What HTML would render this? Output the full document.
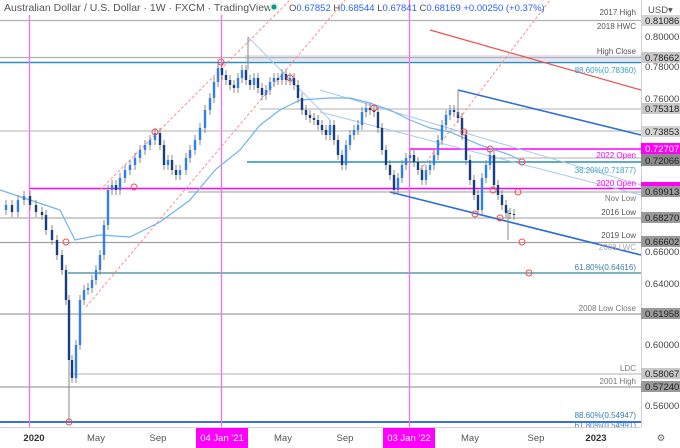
<!DOCTYPE html>
<html><head><meta charset="utf-8"><style>
html,body{margin:0;padding:0;background:#fff;width:680px;height:448px;overflow:hidden;font-family:"Liberation Sans",sans-serif}
svg{display:block}
</style></head><body>
<svg id="s" width="680" height="448" xmlns="http://www.w3.org/2000/svg" font-family="Liberation Sans, sans-serif">
<rect width="680" height="448" fill="#fff"/>
<g stroke-width="1.3">
<line x1="0" y1="20.5" x2="641" y2="20.5" stroke="#b0b0b0"/>
<rect x="245" y="55" width="396" height="6" fill="#e4e4f4"/>
<line x1="0" y1="57.5" x2="641" y2="57.5" stroke="#b0b0b0"/>
<line x1="0" y1="62.5" x2="641" y2="62.5" stroke="#2a8fb8" stroke-width="1.6"/>
<line x1="260" y1="109" x2="641" y2="109" stroke="#c0c0c0"/>
<line x1="0" y1="131" x2="641" y2="131" stroke="#c0c0c0"/>
<line x1="410" y1="149" x2="641" y2="149" stroke="#ff00ff" stroke-width="1.6"/>
<line x1="247" y1="162" x2="641" y2="162" stroke="#2a8fb8" stroke-width="1.6"/>
<line x1="490" y1="158" x2="641" y2="158" stroke="#c0c0c0"/>
<line x1="30" y1="188.5" x2="641" y2="188.5" stroke="#ff00ff" stroke-width="1.6"/>
<line x1="188" y1="192" x2="641" y2="192" stroke="#b0b0b0"/>
<line x1="0" y1="218" x2="641" y2="218" stroke="#b0b0b0"/>
<line x1="0" y1="242.5" x2="641" y2="242.5" stroke="#a0a0a0"/>
<line x1="68" y1="273" x2="641" y2="273" stroke="#5a9aa8" stroke-width="1.6"/>
<line x1="0" y1="314" x2="641" y2="314" stroke="#a0a0a0"/>
<line x1="70" y1="374" x2="641" y2="374" stroke="#c0c0c0"/>
<line x1="0" y1="387" x2="641" y2="387" stroke="#a0a0a0"/>
<line x1="0" y1="422" x2="641" y2="422" stroke="#1f5fc8" stroke-width="1.8"/>
</g>
<g stroke="#ff66ff" stroke-width="1.2">
<line x1="29.5" y1="0" x2="29.5" y2="427"/>
<line x1="221.5" y1="0" x2="221.5" y2="427"/>
<line x1="409.5" y1="0" x2="409.5" y2="427"/>
</g>
<line x1="430" y1="30" x2="641" y2="90" stroke="#f05050" stroke-width="1.2"/>
<line x1="100" y1="190" x2="290" y2="0" stroke="#ff9090" stroke-width="1" stroke-dasharray="3,2"/>
<line x1="86" y1="307" x2="345" y2="0" stroke="#ff9090" stroke-width="1" stroke-dasharray="3,2"/>
<line x1="420" y1="170" x2="550" y2="0" stroke="#ff9090" stroke-width="1" stroke-dasharray="3,2"/>
<line x1="458" y1="90" x2="641" y2="135" stroke="#2f6fd6" stroke-width="1.6"/>
<line x1="390" y1="192" x2="641" y2="255" stroke="#2f6fd6" stroke-width="1.6"/>
<line x1="320" y1="112" x2="641" y2="195" stroke="#a8c8f0" stroke-width="1"/>
<line x1="320" y1="90" x2="641" y2="185" stroke="#a8c8f0" stroke-width="1"/>
<line x1="248" y1="37" x2="330" y2="120" stroke="#a8c8f0" stroke-width="1"/>
<polyline fill="none" stroke="#6fb4ec" stroke-width="1.2" points="0,190 30,200 60,210 75,240 100,235 130,237 160,222 190,200 215,170 240,150 260,125 280,110 300,100 330,98 350,98 370,103 390,110 410,120 430,128 450,132 480,145 510,155 520,160"/>
<g id="c"></g>
<g fill="none" stroke="#f05050" stroke-width="1">
<circle cx="66" cy="242" r="3"/><circle cx="69" cy="422" r="3"/><circle cx="155" cy="132" r="3"/><circle cx="134" cy="187" r="3"/>
<circle cx="221" cy="62" r="3"/><circle cx="290" cy="78" r="3"/><circle cx="374" cy="108" r="3"/><circle cx="464" cy="132" r="3"/>
<circle cx="490" cy="149" r="3"/><circle cx="522" cy="162" r="3"/><circle cx="493" cy="190" r="3"/><circle cx="518" cy="192" r="3"/>
<circle cx="475" cy="214" r="3"/><circle cx="500" cy="218" r="3"/><circle cx="522" cy="242" r="3"/><circle cx="529" cy="273" r="3"/>
</g>
<g font-size="8" text-anchor="end" fill="#555">
<text x="636" y="15">2017 High</text>
<text x="636" y="29">2018 HWC</text>
<text x="636" y="54">High Close</text>
<text x="636" y="73" fill="#3aa0c8">88.60%(0.78360)</text>
<text x="636" y="158" fill="#ff00ff">2022 Open</text>
<text x="636" y="173" fill="#3aa0c8">38.20%(0.71877)</text>
<text x="636" y="186" fill="#ff00ff">2020 Open</text>
<text x="636" y="201" fill="#777">Nov Low</text>
<text x="636" y="215">2016 Low</text>
<text x="636" y="238">2019 Low</text>
<text x="636" y="250" fill="#aaa">2008 LWC</text>
<text x="636" y="270" fill="#3a7fa0">61.80%(0.64616)</text>
<text x="636" y="311" fill="#777">2008 Low Close</text>
<text x="636" y="371" fill="#777">LDC</text>
<text x="636" y="384" fill="#777">2001 High</text>
<text x="636" y="418" fill="#3a7fa0">88.60%(0.54947)</text>
<text x="636" y="428" fill="#3a7fc8">61.80%(0.54991)</text>
</g>
<rect x="641" y="0" width="39" height="448" fill="#fff"/>
<line x1="641.5" y1="0" x2="641.5" y2="448" stroke="#d0d0d0"/>
<g font-size="9.5" fill="#444" text-anchor="start">
<text x="648" y="13" fill="#555">USD▾</text>
<text x="645" y="40">0.80000</text>
<text x="645" y="70">0.78000</text>
<text x="645" y="102">0.76000</text>
<text x="645" y="255">0.66000</text>
<text x="645" y="287">0.64000</text>
<text x="645" y="348">0.60000</text>
<text x="645" y="409">0.56000</text>
</g>
<g font-size="9.5" fill="#222">
<rect x="641" y="15" width="39" height="11" fill="#d4d4d4"/><text x="645" y="24">0.81086</text>
<rect x="641" y="52" width="39" height="11" fill="#c8c8c8"/><text x="645" y="61">0.78662</text>
<rect x="641" y="103" width="39" height="11" fill="#c8c8c8"/><text x="645" y="112">0.75318</text>
<rect x="641" y="126" width="39" height="11" fill="#d4d4d4"/><text x="645" y="135">0.73853</text>
<rect x="641" y="143" width="39" height="11" fill="#ff00ff"/><text x="645" y="152" fill="#fff">0.72707</text>
<rect x="641" y="154" width="39" height="12" fill="#8a8a8a"/><text x="645" y="164">0.72066</text>
<rect x="641" y="182" width="39" height="4" fill="#ff00ff"/>
<rect x="641" y="186" width="39" height="11" fill="#9a9a9a"/><text x="645" y="195">0.69913</text>
<rect x="641" y="212" width="39" height="11" fill="#9a9a9a"/><text x="645" y="221">0.68270</text>
<rect x="641" y="236" width="39" height="11" fill="#9a9a9a"/><text x="645" y="245">0.66602</text>
<rect x="641" y="308" width="39" height="11" fill="#9a9a9a"/><text x="645" y="317">0.61958</text>
<rect x="641" y="368" width="39" height="11" fill="#c8c8c8"/><text x="645" y="377">0.58067</text>
<rect x="641" y="381" width="39" height="11" fill="#9a9a9a"/><text x="645" y="390">0.57240</text>
</g>
<rect x="0" y="427" width="680" height="21" fill="#fff"/>
<line x1="0" y1="427.5" x2="641" y2="427.5" stroke="#d0d0d0"/>
<rect x="196" y="428" width="52" height="20" fill="#ff00ff"/>
<rect x="383" y="428" width="52" height="20" fill="#ff00ff"/>
<g font-size="9.5" fill="#555" text-anchor="middle">
<text x="34" y="441" font-weight="bold" fill="#333">2020</text>
<text x="96" y="441">May</text>
<text x="158" y="441">Sep</text>
<text x="222" y="441" fill="#fff">04 Jan '21</text>
<text x="283" y="441">May</text>
<text x="345" y="441">Sep</text>
<text x="409" y="441" fill="#fff">03 Jan '22</text>
<text x="470" y="441">May</text>
<text x="536" y="441">Sep</text>
<text x="596" y="441" font-weight="bold" fill="#333">2023</text>
<text x="661" y="441" fill="#666">⚙</text>
</g>
<rect x="0" y="0" width="272" height="15" fill="#fff" fill-opacity="0.85"/>
<text x="4" y="11" font-size="10.5" fill="#555">Australian Dollar / U.S. Dollar · 1W · FXCM · TradingView</text>
<circle cx="274" cy="7" r="4.5" fill="#e0f0ee"/><circle cx="274" cy="7" r="2.5" fill="#089981"/>
<text x="289" y="11" font-size="9.5" fill="#2962ff"><tspan fill="#555">O</tspan>0.67852 <tspan fill="#555">H</tspan>0.68544 <tspan fill="#555">L</tspan>0.67841 <tspan fill="#555">C</tspan>0.68169 +0.00250 (+0.37%)</text>
</svg>
<script>
var p=[[0,210],[6,205],[12,212],[18,200],[24,196],[30,205],[36,212],[42,215],[46,230],[52,240],[57,255],[62,270],[66,300],[69,360],[72,378],[76,345],[80,300],[84,290],[88,288],[92,280],[96,270],[100,255],[104,225],[108,190],[112,185],[116,190],[120,178],[125,170],[130,165],[135,158],[140,150],[145,145],[150,140],[155,133],[160,145],[164,165],[168,160],[172,170],[176,175],[180,170],[186,158],[190,150],[195,140],[200,128],[205,110],[210,98],[214,82],[218,68],[222,75],[226,80],[230,85],[234,88],[238,78],[242,70],[246,80],[250,85],[254,78],[258,88],[262,95],[266,90],[270,82],[274,78],[278,80],[282,74],[286,80],[290,78],[294,85],[298,98],[302,110],[306,115],[310,118],[314,120],[318,125],[322,130],[326,135],[330,125],[334,140],[338,155],[342,165],[346,145],[350,135],[354,130],[358,125],[362,112],[366,108],[370,110],[374,112],[378,128],[382,150],[386,165],[390,175],[394,190],[398,178],[402,165],[406,158],[410,155],[414,162],[418,170],[422,180],[426,170],[430,165],[434,155],[438,140],[442,125],[446,115],[450,110],[454,112],[458,118],[462,135],[466,160],[470,180],[474,195],[478,210],[482,178],[486,165],[490,155],[494,185],[498,195],[502,205],[506,213],[510,214],[514,215]];
var g=document.getElementById('c'),h='';
for(var i=1;i<p.length;i++){var x=p[i][0],o=p[i-1][1],c=p[i][1],t=Math.min(o,c),b=Math.max(o,c);
var up=c<o,col=up?'#2f7ff0':'#1a3d80';
h+='<line x1="'+x+'" y1="'+(t-5)+'" x2="'+x+'" y2="'+(b+5)+'" stroke="#888" stroke-width="1"/>';
h+='<rect x="'+(x-1.2)+'" y="'+t+'" width="2.4" height="'+Math.max(1,b-t)+'" fill="'+col+'"/>';}
h+='<line x1="69" y1="360" x2="69" y2="422" stroke="#888"/><line x1="248" y1="37" x2="248" y2="70" stroke="#888"/><line x1="458" y1="90" x2="458" y2="115" stroke="#888"/><line x1="508" y1="210" x2="508" y2="240" stroke="#888"/>';
g.innerHTML=h;
</script>
</body></html>
